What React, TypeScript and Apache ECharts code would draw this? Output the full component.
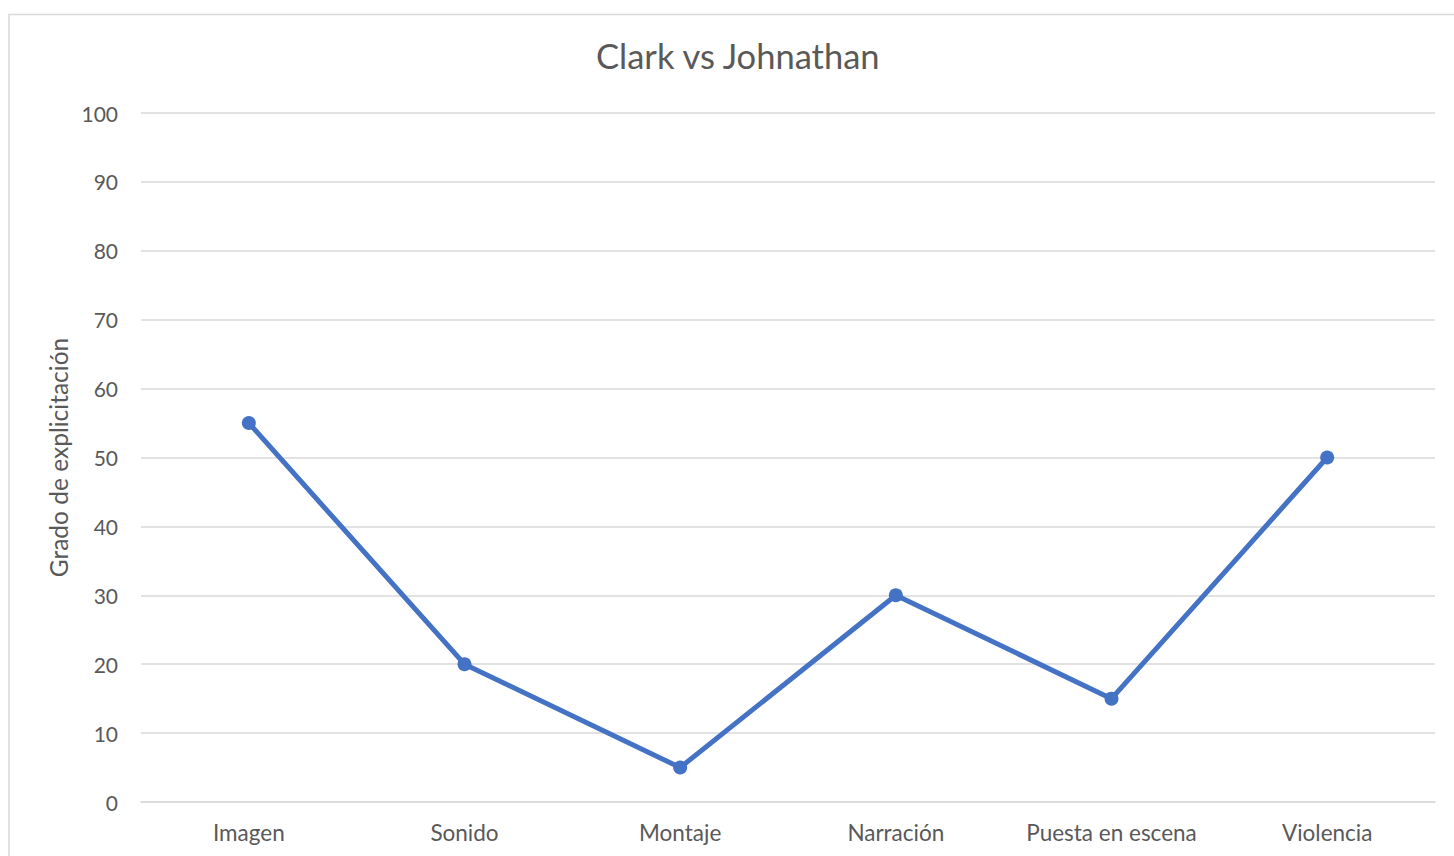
import React, { useEffect, useRef } from "react";
import * as echarts from "echarts";

const chartTitle = "Clark vs Johnathan";
const yAxisName = "Grado de explicitación";
const categories = ["Imagen", "Sonido", "Montaje", "Narración", "Puesta en escena", "Violencia"];
const values = [55, 20, 5, 30, 15, 50];
const yMin = 0;
const yMax = 100;
const yStep = 10;

const FONT = "Lato, 'Open Sans', sans-serif";
const TEXT = "#595959";
const GRID = "#d9d9d9";
const BLUE = "#4472c4";

export default function App() {
  const ref = useRef<HTMLDivElement>(null);

  useEffect(() => {
    if (!ref.current) return;
    const chart = echarts.init(ref.current, null, { renderer: "svg" });
    chart.setOption({
      animation: false,
      backgroundColor: "#ffffff",
      title: {
        text: chartTitle,
        left: 591,
        top: 33,
        textStyle: { fontFamily: FONT, fontSize: 34.5, fontWeight: "normal", color: TEXT },
      },
      graphic: [
        {
          type: "rect",
          shape: { x: 9, y: 14.5, width: 2000, height: 2000 },
          style: { fill: "none", stroke: GRID, lineWidth: 1.5 },
          silent: true,
        },
      ],
      grid: { left: 141, right: 19, top: 113, bottom: 54, containLabel: false },
      xAxis: {
        type: "category",
        data: categories,
        boundaryGap: true,
        axisLine: { show: true, lineStyle: { color: GRID, width: 1.5 } },
        axisTick: { show: false },
        axisLabel: { interval: 0, fontFamily: FONT, fontSize: 22.5, color: TEXT, margin: 19 },
      },
      yAxis: {
        type: "value",
        min: yMin,
        max: yMax,
        interval: yStep,
        name: yAxisName,
        nameLocation: "middle",
        nameGap: 69,
        nameRotate: 90,
        nameTextStyle: { fontFamily: FONT, fontSize: 24.5, color: TEXT },
        axisLine: { show: false },
        axisTick: { show: false },
        axisLabel: { fontFamily: FONT, fontSize: 21, color: TEXT, margin: 23 },
        splitLine: { lineStyle: { color: GRID, width: 1.5 } },
      },
      series: [
        {
          type: "line",
          data: values,
          symbol: "circle",
          symbolSize: 14,
          lineStyle: { color: BLUE, width: 5 },
          itemStyle: { color: BLUE },
        },
      ],
    });
    return () => chart.dispose();
  }, []);

  return (
    <div
      ref={ref}
      style={{ position: "fixed", left: 0, top: 0, width: 1454, height: 856 }}
    />
  );
}
